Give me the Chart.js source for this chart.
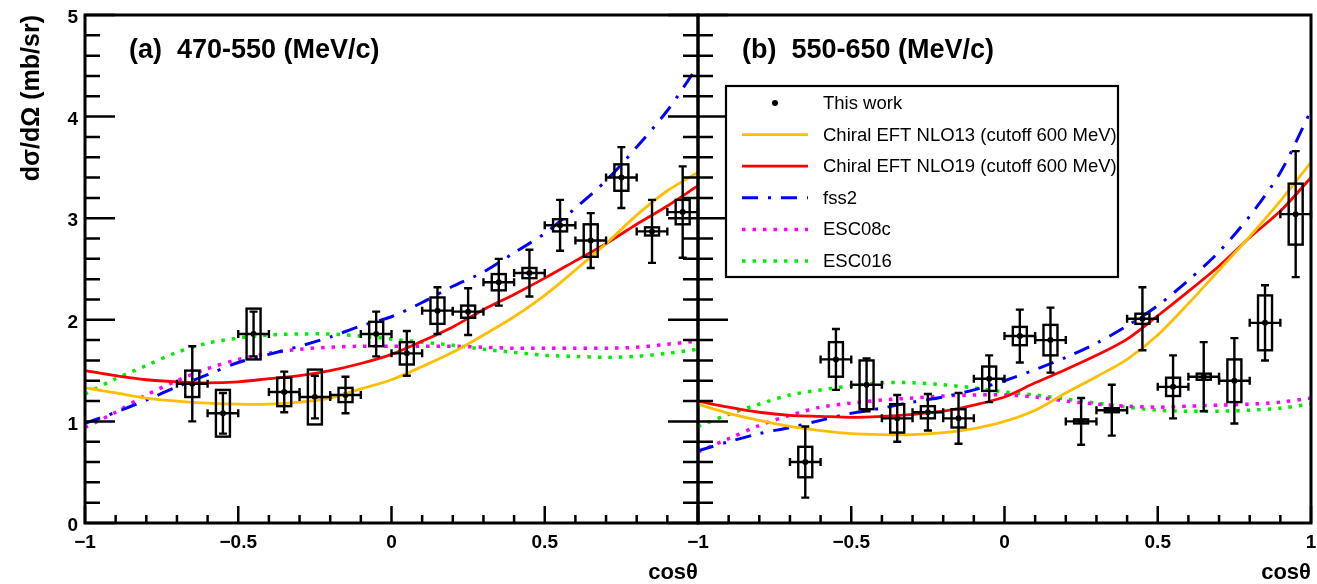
<!DOCTYPE html>
<html>
<head>
<meta charset="utf-8">
<script src="https://cdn.jsdelivr.net/npm/chart.js@4.4.1/dist/chart.umd.min.js"></script>
<style>
  html, body { margin: 0; padding: 0; background: #fff; }
  #wrap { position: relative; width: 1317px; height: 584px; }
  #wrap canvas { position: absolute; left: 0; top: 0; }
</style>
</head>
<body>
<div id="wrap">
  <canvas id="panelA" width="1317" height="584"></canvas>
  <canvas id="panelB" width="1317" height="584"></canvas>
</div>
<script>
// measured bins (cos theta centres), half bin width used for the x error
const cosBins = [-0.65, -0.55, -0.45, -0.35, -0.25, -0.15, -0.05, 0.05, 0.15, 0.25, 0.35, 0.45, 0.55, 0.65, 0.75, 0.85, 0.95];
const binHalfWidth = 0.05;

// (a) 470-550 MeV/c : value, statistical error, systematic error (mb/sr)
const sigmaA = [1.37, 1.08, 1.86, 1.29, 1.24, 1.26, 1.86, 1.67, 2.09, 2.08, 2.37, 2.46, 2.93, 2.78, 3.40, 2.87, 3.06];
const statA  = [0.37, 0.20, 0.22, 0.20, 0.21, 0.18, 0.22, 0.22, 0.23, 0.23, 0.23, 0.23, 0.25, 0.27, 0.30, 0.31, 0.45];
const sysA   = [0.13, 0.23, 0.25, 0.14, 0.27, 0.07, 0.12, 0.11, 0.13, 0.06, 0.08, 0.05, 0.06, 0.16, 0.13, 0.04, 0.12];

// (b) 550-650 MeV/c
const sigmaB = [0.60, 1.61, 1.36, 1.03, 1.09, 1.03, 1.42, 1.84, 1.80, 1.00, 1.11, 2.01, 1.34, 1.44, 1.40, 1.97, 3.04];
const statB  = [0.35, 0.30, 0.26, 0.23, 0.18, 0.25, 0.23, 0.26, 0.32, 0.23, 0.25, 0.31, 0.31, 0.34, 0.42, 0.37, 0.62];
const sysB   = [0.15, 0.17, 0.24, 0.14, 0.06, 0.09, 0.12, 0.09, 0.15, 0.02, 0.02, 0.05, 0.09, 0.03, 0.21, 0.27, 0.30];

// theory curves, sampled on cosGrid
const cosGrid = [-1, -0.9, -0.8, -0.7, -0.6, -0.5, -0.4, -0.3, -0.2, -0.1, 0, 0.1, 0.2, 0.3, 0.4, 0.5, 0.6, 0.7, 0.8, 0.9, 1];
const nlo13A  = [1.33, 1.28, 1.23, 1.20, 1.18, 1.17, 1.17, 1.19, 1.23, 1.32, 1.41, 1.54, 1.68, 1.85, 2.03, 2.24, 2.49, 2.75, 3.03, 3.27, 3.45];
const nlo19A  = [1.50, 1.45, 1.41, 1.39, 1.38, 1.39, 1.42, 1.45, 1.50, 1.57, 1.66, 1.79, 1.93, 2.10, 2.25, 2.41, 2.58, 2.75, 2.94, 3.12, 3.32];
const fss2A   = [0.98, 1.09, 1.21, 1.34, 1.46, 1.58, 1.66, 1.74, 1.83, 1.94, 2.03, 2.17, 2.33, 2.47, 2.66, 2.85, 3.10, 3.37, 3.70, 4.06, 4.50];
const esc08cA = [0.94, 1.09, 1.26, 1.40, 1.52, 1.61, 1.67, 1.71, 1.73, 1.74, 1.74, 1.74, 1.74, 1.73, 1.72, 1.72, 1.72, 1.72, 1.73, 1.76, 1.79];
const esc016A = [1.27, 1.42, 1.55, 1.68, 1.77, 1.82, 1.85, 1.86, 1.86, 1.84, 1.81, 1.78, 1.75, 1.71, 1.68, 1.65, 1.64, 1.63, 1.64, 1.67, 1.71];

const nlo13B  = [1.17, 1.08, 1.01, 0.95, 0.91, 0.88, 0.87, 0.87, 0.89, 0.93, 1.00, 1.11, 1.28, 1.44, 1.61, 1.85, 2.16, 2.49, 2.82, 3.17, 3.55];
const nlo19B  = [1.20, 1.14, 1.09, 1.06, 1.05, 1.04, 1.05, 1.07, 1.10, 1.16, 1.24, 1.38, 1.51, 1.65, 1.81, 2.04, 2.28, 2.53, 2.81, 3.07, 3.40];
const fss2B   = [0.71, 0.80, 0.88, 0.94, 1.01, 1.08, 1.13, 1.19, 1.24, 1.31, 1.40, 1.51, 1.63, 1.77, 1.94, 2.14, 2.39, 2.67, 3.02, 3.45, 4.06];
const esc08cB = [0.70, 0.83, 0.96, 1.06, 1.14, 1.18, 1.21, 1.23, 1.25, 1.26, 1.26, 1.24, 1.20, 1.17, 1.15, 1.14, 1.15, 1.16, 1.17, 1.19, 1.23];
const esc016B = [0.95, 1.07, 1.17, 1.26, 1.31, 1.35, 1.38, 1.38, 1.36, 1.33, 1.29, 1.26, 1.22, 1.18, 1.14, 1.11, 1.10, 1.10, 1.11, 1.13, 1.17];

const xMajorTicks = [-1, -0.5, 0, 0.5, 1];
const yMajorTicks = [0, 1, 2, 3, 4, 5];

const FONT = "'Liberation Sans', Arial, Helvetica, sans-serif";

const curveStyles = [
  { key: 'nlo13',  label: 'Chiral EFT NLO13 (cutoff 600 MeV)', color: '#ffbf00', width: 2.8, dash: [] },
  { key: 'nlo19',  label: 'Chiral EFT NLO19 (cutoff 600 MeV)', color: '#ff0000', width: 2.8, dash: [] },
  { key: 'fss2',   label: 'fss2',   color: '#0000ff', width: 3, dash: [16, 10, 3, 10] },
  { key: 'esc08c', label: 'ESC08c', color: '#ff00ff', width: 3.5, dash: [3.5, 7] },
  { key: 'esc016', label: 'ESC016', color: '#00ee00', width: 3.5, dash: [3.5, 7] }
];

function toXY(xs, ys) {
  return xs.map((x, i) => ({ x: x, y: ys[i] }));
}

function minusFmt(v) {
  const s = String(v);
  return v < 0 ? '\u2212' + s.slice(1) : s;
}

// ROOT-like frame: inner ticks, error bars with systematic boxes, labels, legend
const rootStyle = {
  id: 'rootStyle',
  afterDatasetsDraw(chart, args, opts) {
    const ctx = chart.ctx;
    const xs = chart.scales.x, ys = chart.scales.y;
    const m = opts.meas;
    ctx.save();
    ctx.strokeStyle = '#000';
    ctx.lineWidth = 2.4;
    m.x.forEach((cx, i) => {
      const px = xs.getPixelForValue(cx);
      const py = ys.getPixelForValue(m.y[i]);
      const xl = xs.getPixelForValue(cx - binHalfWidth);
      const xr = xs.getPixelForValue(cx + binHalfWidth);
      const yt = ys.getPixelForValue(m.y[i] + m.stat[i]);
      const yb = ys.getPixelForValue(m.y[i] - m.stat[i]);
      const st = ys.getPixelForValue(m.y[i] + m.sys[i]);
      const sb = ys.getPixelForValue(m.y[i] - m.sys[i]);
      ctx.beginPath();
      ctx.moveTo(xl, py); ctx.lineTo(xr, py);
      ctx.moveTo(px, yt); ctx.lineTo(px, yb);
      ctx.moveTo(xl, py - 4); ctx.lineTo(xl, py + 4);
      ctx.moveTo(xr, py - 4); ctx.lineTo(xr, py + 4);
      ctx.moveTo(px - 4, yt); ctx.lineTo(px + 4, yt);
      ctx.moveTo(px - 4, yb); ctx.lineTo(px + 4, yb);
      ctx.stroke();
      ctx.strokeRect(px - 7, st, 14, Math.max(sb - st, 2));
    });
    ctx.restore();
  },
  afterDraw(chart, args, opts) {
    const ctx = chart.ctx;
    const a = chart.chartArea;
    const xs = chart.scales.x, ys = chart.scales.y;
    ctx.save();
    ctx.strokeStyle = '#000';
    ctx.lineWidth = 3;
    ctx.strokeRect(a.left, a.top, a.right - a.left, a.bottom - a.top);

    // y ticks: majors at integers, minors every 0.2
    ctx.lineWidth = 2.5;
    ctx.beginPath();
    for (let k = 0; k <= 25; k++) {
      const v = k / 5;
      const len = yMajorTicks.includes(v) ? 30 : 15;
      const py = ys.getPixelForValue(v);
      ctx.moveTo(opts.bothSides ? a.left - len : a.left, py);
      ctx.lineTo(a.left + len, py);
    }
    // x ticks: majors every 0.5, minors every 0.1
    for (let k = -10; k <= 10; k++) {
      const v = k / 10;
      const len = xMajorTicks.includes(v) ? 17 : 8;
      const px = xs.getPixelForValue(v);
      ctx.moveTo(px, a.bottom);
      ctx.lineTo(px, a.bottom - len);
    }
    ctx.stroke();

    // panel title
    ctx.fillStyle = '#000';
    ctx.font = 'bold 27px ' + FONT;
    ctx.textBaseline = 'middle';
    ctx.textAlign = 'left';
    ctx.fillText(opts.title, a.left + 44, a.top + 36);

    if (opts.legend) {
      const bx = a.left + 28, by = 86, bw = 392, bh = 191;
      ctx.fillStyle = '#fff';
      ctx.fillRect(bx, by, bw, bh);
      ctx.lineWidth = 2.2;
      ctx.strokeRect(bx, by, bw, bh);
      const rows = [{ label: 'This work', marker: true }].concat(curveStyles);
      ctx.font = '18.5px ' + FONT;
      rows.forEach((r, i) => {
        const ry = by + 17 + i * 31.6;
        if (r.marker) {
          ctx.fillStyle = '#000';
          ctx.beginPath();
          ctx.arc(bx + 49, ry, 3, 0, Math.PI * 2);
          ctx.fill();
        } else {
          ctx.strokeStyle = r.color;
          ctx.lineWidth = r.width;
          ctx.setLineDash(r.dash);
          ctx.beginPath();
          ctx.moveTo(bx + 16, ry);
          ctx.lineTo(bx + 82, ry);
          ctx.stroke();
          ctx.setLineDash([]);
        }
        ctx.fillStyle = '#000';
        ctx.fillText(r.label, bx + 97, ry + 1);
      });
    }
    ctx.restore();
  }
};

function makePanel(canvasId, cfg) {
  const curveSets = [cfg.nlo13, cfg.nlo19, cfg.fss2, cfg.esc08c, cfg.esc016];
  const datasets = curveStyles.map((s, i) => ({
    label: s.label,
    data: toXY(cosGrid, curveSets[i]),
    showLine: true,
    borderColor: s.color,
    borderWidth: s.width,
    borderDash: s.dash,
    borderCapStyle: 'butt',
    tension: 0.3,
    pointRadius: 0,
    fill: false
  }));
  datasets.push({
    label: 'This work',
    data: toXY(cosBins, cfg.sigma),
    showLine: false,
    pointRadius: 3,
    pointBackgroundColor: '#000',
    pointBorderWidth: 0
  });

  const tickFont = { family: FONT, size: 19, weight: 'bold' };
  return new Chart(document.getElementById(canvasId), {
    type: 'scatter',
    data: { datasets: datasets },
    options: {
      responsive: false,
      animation: false,
      devicePixelRatio: 1,
      layout: { padding: cfg.padding, autoPadding: false },
      plugins: {
        legend: { display: false },
        tooltip: { enabled: false },
        rootStyle: {
          title: cfg.title,
          legend: cfg.showLegend,
          bothSides: cfg.bothSides,
          meas: { x: cosBins, y: cfg.sigma, stat: cfg.stat, sys: cfg.sys }
        }
      },
      scales: {
        x: {
          type: 'linear',
          min: -1,
          max: 1,
          // label gap comes from tickLength (grid itself hidden) so the scale asks for no side padding
          grid: { display: false, drawTicks: true, tickLength: 8 },
          border: { display: false },
          ticks: {
            stepSize: 0.5,
            autoSkip: false,
            maxRotation: 0,
            padding: 0,
            color: '#000',
            font: tickFont,
            callback: v => (cfg.dropLastX && v === 1) ? '' : minusFmt(v)
          },
          title: {
            display: true,
            text: 'cos\u03b8',
            align: 'end',
            color: '#000',
            padding: { top: 0, bottom: 0 },
            font: { family: FONT, size: 22, weight: 'bold', lineHeight: 1 }
          },
          afterFit: s => { s.height = 61; }
        },
        y: {
          type: 'linear',
          display: cfg.showY,
          min: 0,
          max: 5,
          grid: { display: false, drawTicks: true, tickLength: 7 },
          border: { display: false },
          ticks: {
            stepSize: 1,
            padding: 0,
            labelOffset: 3,
            color: '#000',
            font: tickFont
          },
          title: {
            display: true,
            text: 'd\u03c3/d\u03a9 (mb/sr)',
            align: 'end',
            color: '#000',
            padding: { top: 20, bottom: 0 },
            font: { family: FONT, size: 25, weight: 'bold', lineHeight: 1 }
          },
          afterFit: s => { if (cfg.showY) s.width = 85; }
        }
      }
    },
    plugins: [rootStyle]
  });
}

makePanel('panelA', {
  title: '(a)  470-550 (MeV/c)',
  sigma: sigmaA, stat: statA, sys: sysA,
  nlo13: nlo13A, nlo19: nlo19A, fss2: fss2A, esc08c: esc08cA, esc016: esc016A,
  padding: { left: 0, right: 619, top: 15, bottom: 0 },
  showY: true, showLegend: false, bothSides: false, dropLastX: true
});

makePanel('panelB', {
  title: '(b)  550-650 (MeV/c)',
  sigma: sigmaB, stat: statB, sys: sysB,
  nlo13: nlo13B, nlo19: nlo19B, fss2: fss2B, esc08c: esc08cB, esc016: esc016B,
  padding: { left: 698, right: 6, top: 15, bottom: 0 },
  showY: false, showLegend: true, bothSides: true, dropLastX: false
});
</script>
</body>
</html>
